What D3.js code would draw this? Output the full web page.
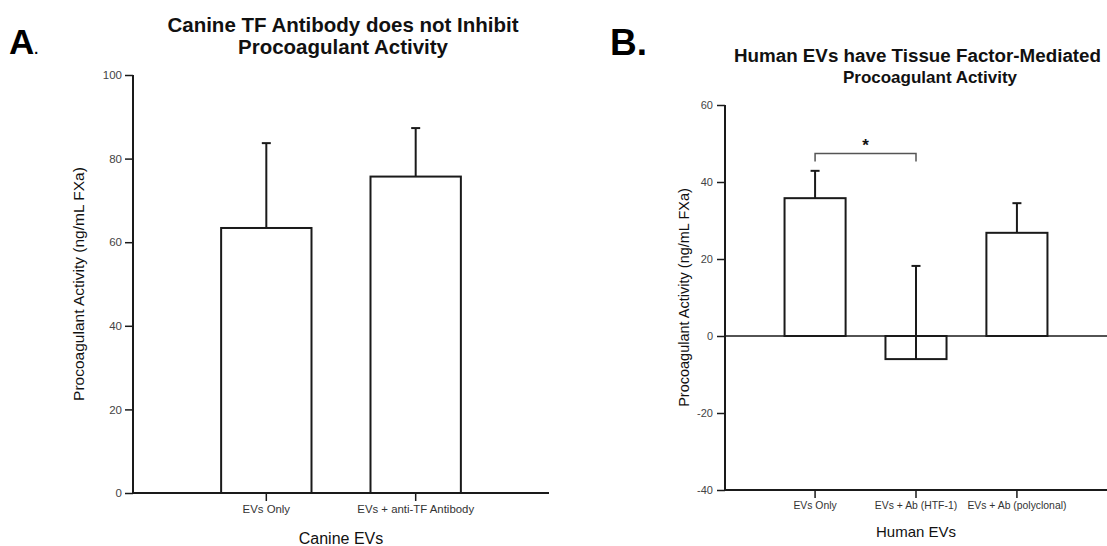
<!DOCTYPE html>
<html>
<head>
<meta charset="utf-8">
<script src="https://cdn.jsdelivr.net/npm/d3@7"></script>
<style>
  html, body { margin: 0; padding: 0; background: #fff; }
  svg { display: block; font-family: "Liberation Sans", Arial, Helvetica, sans-serif; }
</style>
</head>
<body>
<svg id="chart" width="1107" height="546"></svg>
<script>
// ---------- Data ----------
// Panel A
const canineCategories = ["EVs Only", "EVs + anti-TF Antibody"];
const canineMeans = [63.4, 75.7];
const canineErrors = [20.3, 11.6];
const canineTicks = [0, 20, 40, 60, 80, 100];

// Panel B
const humanCategories = ["EVs Only", "EVs + Ab (HTF-1)", "EVs + Ab (polyclonal)"];
const humanMeans = [35.8, -6.0, 26.8];
const humanErrors = [7.1, 24.2, 7.7];
const humanTicks = [-40, -20, 0, 20, 40, 60];
const sigPair = ["EVs Only", "EVs + Ab (HTF-1)"];
const sigLevel = [47.4, 45.3]; // bracket top, bracket end
const sigLabel = "*";

// ---------- Drawing ----------
const svg = d3.select("#chart");
const INK = "#1a1a1a";

function panel(opts) {
  const g = svg.append("g");
  const x = d3.scaleBand().domain(opts.categories).range(opts.xRange)
    .paddingInner(0.395).paddingOuter(0.59);
  const y = d3.scaleLinear().domain(opts.yDomain).range(opts.yRange);

  // Y axis
  const yAxis = g.append("g").attr("transform", `translate(${opts.xRange[0]},0)`)
    .call(d3.axisLeft(y).tickValues(opts.ticks).tickSize(8).tickPadding(opts.tickPad).tickFormat(d => String(d)));
  yAxis.select(".domain").attr("stroke", INK).attr("stroke-width", 2)
    .attr("d", `M0,${opts.yRange[0]}V${opts.yRange[1]}`);
  yAxis.selectAll(".tick line").attr("stroke", INK).attr("stroke-width", 1.5);
  yAxis.selectAll(".tick text").attr("fill", "#444").attr("font-size", opts.yTickFont).attr("font-family", "Liberation Sans, Arial, sans-serif");

  // X axis (at bottom)
  const xAxis = g.append("g").attr("transform", `translate(0,${opts.yRange[0]})`)
    .call(d3.axisBottom(x).tickSize(8).tickPadding(opts.xTickPad));
  xAxis.select(".domain").attr("stroke", INK).attr("stroke-width", 2)
    .attr("d", `M${opts.xRange[0]},0H${opts.xRange[1]}`);
  xAxis.selectAll(".tick line").attr("stroke", INK).attr("stroke-width", 1.5);
  xAxis.selectAll(".tick text").attr("fill", "#333").attr("font-size", opts.xTickFont).attr("font-family", "Liberation Sans, Arial, sans-serif");

  // Zero line if domain crosses zero
  if (opts.yDomain[0] < 0) {
    g.append("line").attr("x1", opts.xRange[0]).attr("x2", opts.xRange[1])
      .attr("y1", y(0)).attr("y2", y(0)).attr("stroke", INK).attr("stroke-width", 1.5);
  }

  const data = opts.categories.map((c, i) => ({ c, m: opts.means[i], e: opts.errors[i] }));

  // Error bars (upper only)
  const eb = g.append("g");
  eb.selectAll("line.v").data(data).join("line")
    .attr("x1", d => x(d.c) + x.bandwidth() / 2).attr("x2", d => x(d.c) + x.bandwidth() / 2)
    .attr("y1", d => y(d.m)).attr("y2", d => y(d.m + d.e))
    .attr("stroke", INK).attr("stroke-width", 2);
  eb.selectAll("line.cap").data(data).join("line")
    .attr("x1", d => x(d.c) + x.bandwidth() / 2 - 4.5).attr("x2", d => x(d.c) + x.bandwidth() / 2 + 4.5)
    .attr("y1", d => y(d.m + d.e)).attr("y2", d => y(d.m + d.e))
    .attr("stroke", INK).attr("stroke-width", 2);

  // Bars
  g.append("g").selectAll("rect").data(data).join("rect")
    .attr("x", d => x(d.c)).attr("width", x.bandwidth())
    .attr("y", d => Math.min(y(d.m), y(0))).attr("height", d => Math.abs(y(d.m) - y(0)))
    .attr("fill", "none").attr("stroke", INK).attr("stroke-width", 2);

  // Y axis label
  const cy = (opts.yRange[0] + opts.yRange[1]) / 2;
  g.append("text").attr("transform", `translate(${opts.yLabelX},${cy}) rotate(-90)`)
    .attr("text-anchor", "middle").attr("dominant-baseline", "middle")
    .attr("font-size", opts.yLabelFont).attr("fill", "#111").text("Procoagulant Activity (ng/mL FXa)");

  // X axis title
  g.append("text").attr("x", (opts.xRange[0] + opts.xRange[1]) / 2).attr("y", opts.xTitleY)
    .attr("text-anchor", "middle").attr("font-size", opts.xTitleFont).attr("fill", "#111").text(opts.xTitle);

  // Title lines
  opts.title.forEach((t, i) => {
    g.append("text").attr("x", t.x).attr("y", t.y).attr("text-anchor", "middle")
      .attr("font-weight", "bold").attr("font-size", t.size).attr("fill", "#111").text(t.text);
  });

  return { g, x, y };
}

// Panel A
panel({
  categories: canineCategories, means: canineMeans, errors: canineErrors, ticks: canineTicks,
  xRange: [133, 549], yDomain: [0, 100], yRange: [493, 75],
  tickPad: 3, yTickFont: "11.5px", xTickPad: 4, xTickFont: "11.4px",
  yLabelX: 80, yLabelFont: "15.5px",
  xTitle: "Canine EVs", xTitleY: 544, xTitleFont: "16px",
  title: [
    { text: "Canine TF Antibody does not Inhibit", x: 343, y: 31.5, size: "20.5px" },
    { text: "Procoagulant Activity", x: 343, y: 53.5, size: "20.5px" }
  ]
});

// Panel B
const B = panel({
  categories: humanCategories, means: humanMeans, errors: humanErrors, ticks: humanTicks,
  xRange: [725, 1107], yDomain: [-40, 60], yRange: [490, 105],
  tickPad: 4, yTickFont: "11px", xTickPad: 4, xTickFont: "10.4px",
  yLabelX: 685, yLabelFont: "14.5px",
  xTitle: "Human EVs", xTitleY: 536.5, xTitleFont: "15px",
  title: [
    { text: "Human EVs have Tissue Factor-Mediated", x: 917.5, y: 61.5, size: "18.8px" },
    { text: "Procoagulant Activity", x: 930, y: 83, size: "17px" }
  ]
});

// Significance bracket in panel B
{
  const x0 = B.x(sigPair[0]) + B.x.bandwidth() / 2;
  const x1 = B.x(sigPair[1]) + B.x.bandwidth() / 2;
  const yt = B.y(sigLevel[0]), yb = B.y(sigLevel[1]);
  B.g.append("path").attr("d", `M${x0},${yb}V${yt}H${x1}V${yb}`)
    .attr("fill", "none").attr("stroke", "#555").attr("stroke-width", 1.5);
  B.g.append("text").attr("x", (x0 + x1) / 2).attr("y", yt - 3).attr("text-anchor", "middle")
    .attr("font-size", "17px").attr("font-weight", "bold").attr("fill", "#111").text(sigLabel);
}

// Panel letters
svg.append("text").attr("x", 9).attr("y", 53.5).attr("font-size", "35px").attr("font-weight", "bold").attr("fill", "#000")
  .text("A").append("tspan").attr("font-size", "14px").text(".");
svg.append("text").attr("x", 610).attr("y", 55).attr("font-size", "37px").attr("font-weight", "bold").attr("fill", "#000")
  .text("B.");
</script>
</body>
</html>
